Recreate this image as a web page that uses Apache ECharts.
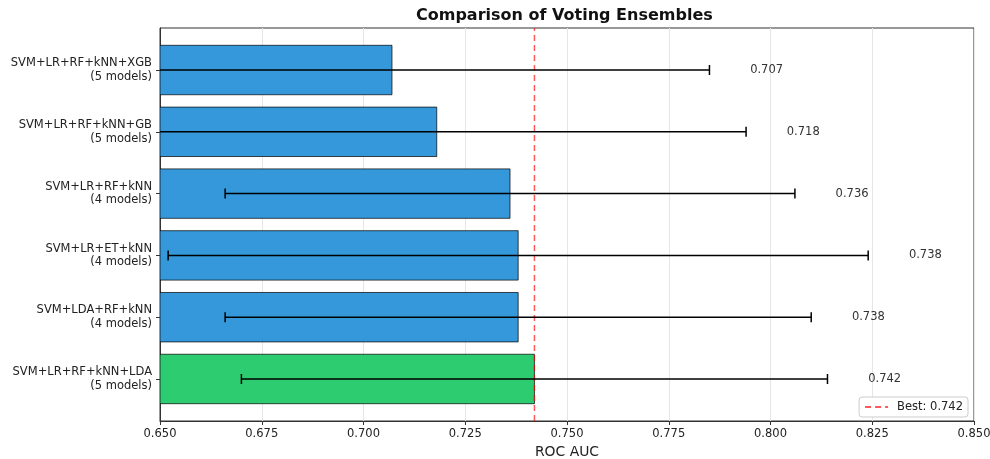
<!DOCTYPE html>
<html>
<head>
<meta charset="utf-8">
<script src="https://cdn.jsdelivr.net/npm/echarts@6/dist/echarts.min.js"></script>
<style>
  html, body { margin: 0; padding: 0; background: #fff; }
  #chart { width: 990px; height: 459px; }
</style>
</head>
<body>
<div id="chart"></div>
<script>
  // bottom to top, as in the plot
  const ensembles = [
    "SVM+LR+RF+kNN+LDA\n(5 models)",
    "SVM+LDA+RF+kNN\n(4 models)",
    "SVM+LR+ET+kNN\n(4 models)",
    "SVM+LR+RF+kNN\n(4 models)",
    "SVM+LR+RF+kNN+GB\n(5 models)",
    "SVM+LR+RF+kNN+XGB\n(5 models)",
  ];
  const meanAuc = [0.742, 0.738, 0.738, 0.736, 0.718, 0.707];
  const stdAuc = [0.072, 0.072, 0.086, 0.070, 0.076, 0.078];
  const bestAuc = 0.742;
  const xTicks = { min: 0.65, max: 0.85, step: 0.025 };

  const COLORS = {
    bar: "#3498db", best: "#2ecc71", edge: "rgba(0,0,0,0.7)",
    err: "#000", bestLine: "rgba(255,0,0,0.65)", text: "#222", grid: "#e6e6e6", frame: "#333",
  };
  const FONT = "DejaVu Sans";
  const bestName = "Best: " + bestAuc.toFixed(3);

  const rows = meanAuc.map((m, i) => [i, m, stdAuc[i]]);
  const chart = echarts.init(document.getElementById("chart"));

  function barItem(params, api) {
    const i = api.value(0), m = api.value(1);
    const p0 = api.coord([xTicks.min, i + 0.4]);
    const p1 = api.coord([m, i - 0.4]);
    return {
      type: "rect",
      shape: { x: p0[0], y: p0[1], width: p1[0] - p0[0], height: p1[1] - p0[1] },
      style: { fill: m === bestAuc ? COLORS.best : COLORS.bar, stroke: COLORS.edge, lineWidth: 1 },
    };
  }

  function errItem(params, api) {
    const i = api.value(0), m = api.value(1), s = api.value(2);
    const lo = api.coord([m - s, i]);
    const hi = api.coord([m + s, i]);
    const txt = api.coord([m + s + 0.01, i]);
    const cap = 5;
    const st = { stroke: COLORS.err, lineWidth: 1.5 };
    return {
      type: "group",
      children: [
        { type: "line", shape: { x1: lo[0], y1: lo[1], x2: hi[0], y2: hi[1] }, style: st },
        { type: "line", shape: { x1: lo[0], y1: lo[1] - cap, x2: lo[0], y2: lo[1] + cap }, style: st },
        { type: "line", shape: { x1: hi[0], y1: hi[1] - cap, x2: hi[0], y2: hi[1] + cap }, style: st },
        {
          type: "text",
          style: {
            x: txt[0], y: txt[1], text: m.toFixed(3), fill: "#333",
            font: "11.5px '" + FONT + "'", textAlign: "left", textVerticalAlign: "middle",
          },
        },
      ],
    };
  }

  chart.setOption({
    animation: false,
    textStyle: { fontFamily: FONT },
    title: {
      text: "Comparison of Voting Ensembles",
      left: 416, top: 8, padding: 0,
      textStyle: { fontSize: 16, fontWeight: "bold", color: "#111", fontFamily: FONT },
    },
    grid: {
      left: 160, right: 16, top: 28, bottom: 38,
      outerBoundsMode: "none", containLabel: false,
      show: true, borderColor: COLORS.frame, borderWidth: 1, backgroundColor: "transparent",
    },
    legend: {
      show: true,
      right: 22, bottom: 42,
      padding: [4, 5, 4, 5],
      itemWidth: 23, itemHeight: 10,
      backgroundColor: "#fff",
      borderColor: "#ccc", borderWidth: 1, borderRadius: 3,
      itemStyle: { opacity: 0 },
      textStyle: { fontSize: 11.5, color: COLORS.text, fontFamily: FONT, padding: [0, 0, 0, 4] },
      data: [bestName],
      z: 10,
    },
    xAxis: {
      type: "value",
      min: xTicks.min, max: xTicks.max, interval: xTicks.step,
      name: "ROC AUC", nameLocation: "middle", nameGap: 24,
      nameTextStyle: { fontSize: 13.9, color: COLORS.text, fontFamily: FONT },
      axisLine: { show: true, onZero: false, lineStyle: { color: COLORS.frame } },
      axisTick: { show: true, length: 4, lineStyle: { color: COLORS.frame } },
      axisLabel: {
        fontSize: 11.5, color: COLORS.text, margin: 7, fontFamily: FONT,
        formatter: (v) => v.toFixed(3),
      },
      splitLine: { show: true, lineStyle: { color: COLORS.grid, width: 1 } },
    },
    yAxis: {
      type: "value",
      min: -0.68, max: 5.68,
      axisLine: { show: true, onZero: false, lineStyle: { color: COLORS.frame } },
      axisTick: { show: true, length: 4, customValues: ensembles.map((_, i) => i), lineStyle: { color: COLORS.frame } },
      axisLabel: {
        customValues: ensembles.map((_, i) => i),
        formatter: (v) => ensembles[Math.round(v)],
        fontSize: 11.5, lineHeight: 13.5, color: COLORS.text, margin: 8, align: "right", fontFamily: FONT,
        padding: [6, 0, 0, 0],
      },
      splitLine: { show: false },
    },
    series: [
      {
        type: "custom",
        name: "bars",
        renderItem: barItem,
        data: rows,
        encode: { x: 1, y: 0 },
        z: 2,
        clip: true,
      },
      {
        type: "line",
        name: bestName,
        data: [[bestAuc, -0.68], [bestAuc, 5.68]],
        symbol: "none",
        showSymbol: false,
        lineStyle: { color: COLORS.bestLine, width: 1.5, type: [6, 4] },
        itemStyle: { color: COLORS.bestLine },
        z: 3,
      },
      {
        type: "custom",
        name: "err",
        renderItem: errItem,
        data: rows,
        encode: { x: [1, 2], y: 0 },
        z: 4,
        clip: true,
      },
    ],
  });
</script>
</body>
</html>
